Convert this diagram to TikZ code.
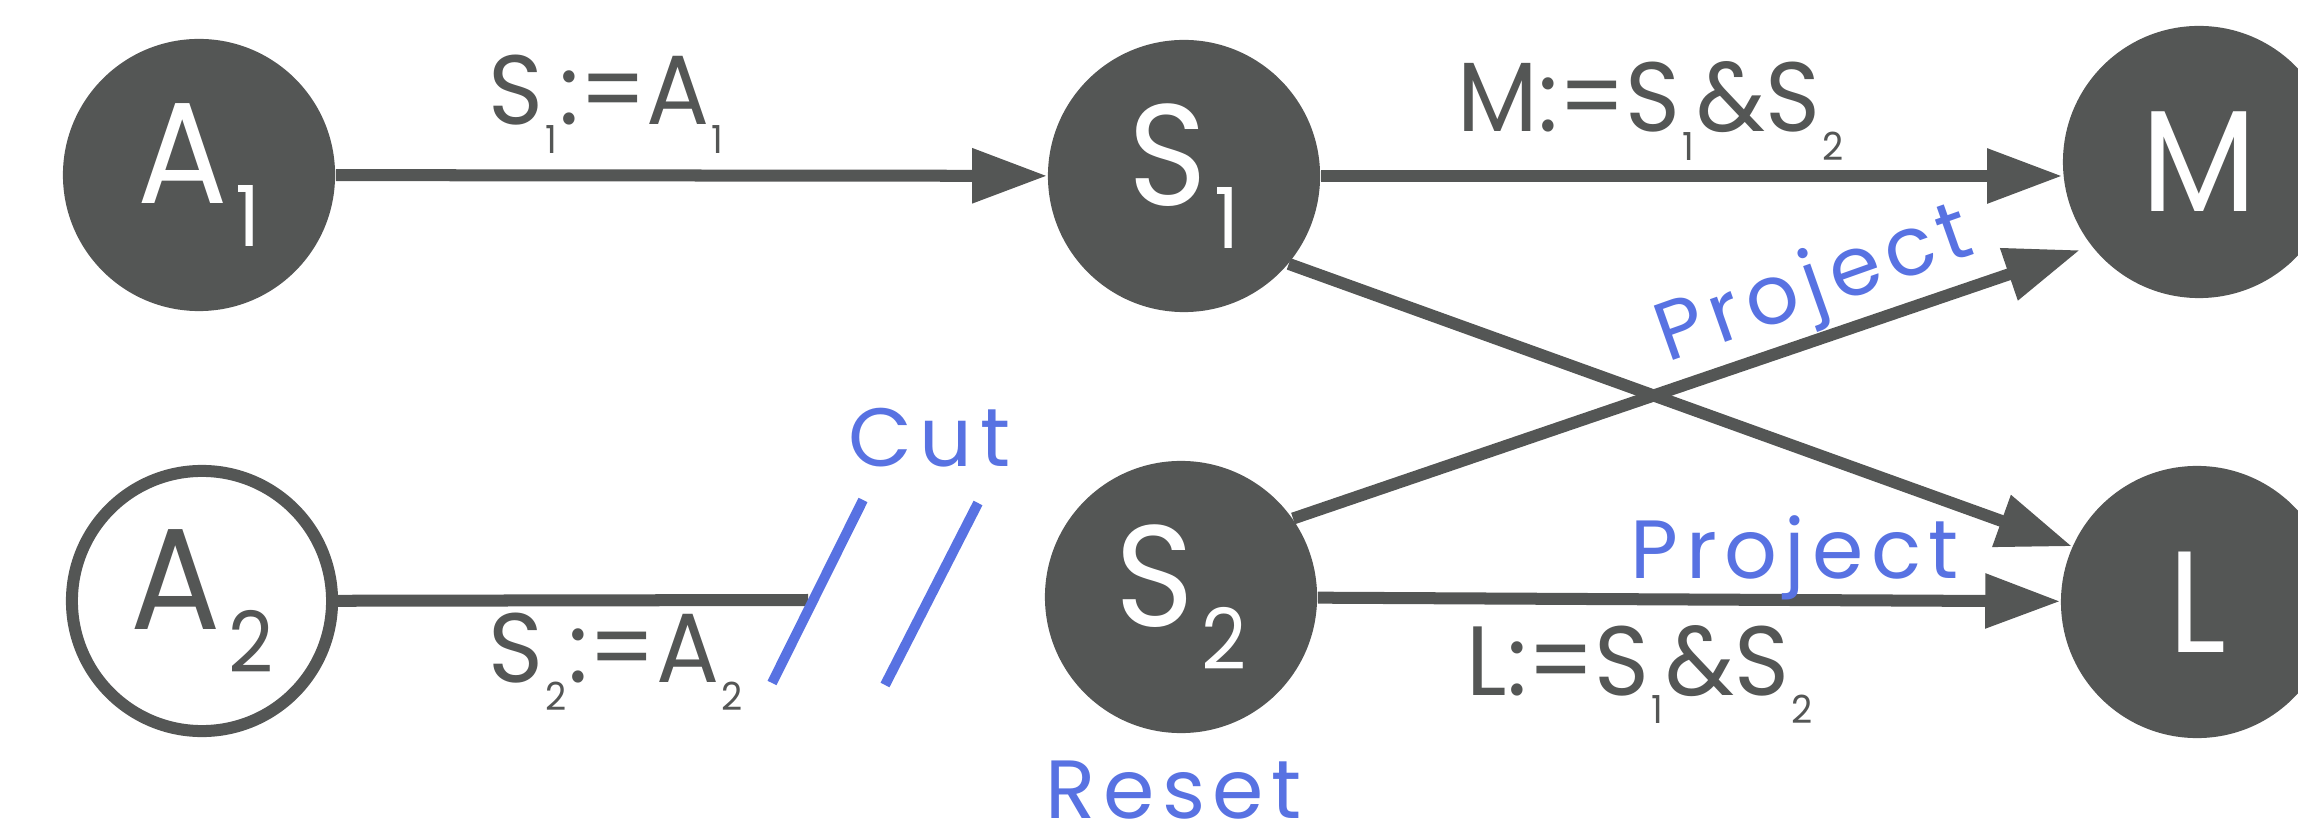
\documentclass[tikz,border=0pt]{standalone}
\usepackage{fontspec}
\setmainfont{Poppins}
\newfontfamily\letterfont[FakeStretch=0.93]{Poppins}
\newfontfamily\labelfont[FakeStretch=0.95]{Poppins}
\newfontfamily\notefont[LetterSpace=9]{Poppins}
\usetikzlibrary{arrows.meta}
\definecolor{ink}{RGB}{84,86,85}
\definecolor{accent}{RGB}{88,114,226}
% subscripts inside the state circles and in the assignment labels
\newcommand\nodesub[1]{\kern0.08cm\raisebox{-0.43cm}{\fontsize{24pt}{24pt}\selectfont #1}}
\newcommand\labsub[1]{\kern0.02cm\raisebox{-0.28cm}{\fontsize{11pt}{11pt}\selectfont #1}\kern0.02cm}
\tikzset{
  state/.style={circle, inner sep=0pt, minimum size=2.72cm, fill=ink, text=white,
    font=\letterfont\fontsize{41pt}{41pt}\selectfont},
  hollow/.style={circle, inner sep=0pt, minimum size=2.6cm, draw=ink, line width=0.12cm,
    fill=white, text=ink, font=\letterfont\fontsize{41pt}{41pt}\selectfont},
  flow/.style={draw=ink, line width=0.12cm, -{Triangle[length=0.75cm,width=0.52cm]}},
  link/.style={draw=ink, line width=0.12cm},
  cutmark/.style={draw=accent, line width=0.1cm},
  assign/.style={inner sep=0pt, anchor=base west, text=ink,
    font=\labelfont\fontsize{28pt}{28pt}\selectfont},
  note/.style={inner sep=0pt, anchor=base west, text=accent,
    font=\notefont\fontsize{23.5pt}{23.5pt}\selectfont},
}
\begin{document}
\begin{tikzpicture}[x=0.01cm, y=-0.01cm]
  \useasboundingbox (0,0) rectangle (2298,831);

  % states
  \node[state]  (A1) at (199,175)  {A\nodesub{1}};
  \node[state]  (S1) at (1184,176) {S\nodesub{1}};
  \node[state]  (M)  at (2199,162) {M};
  \node[hollow] (A2) at (202,601)  {A\nodesub{2}};
  \node[state]  (S2) at (1181,597) {S\nodesub{2}};
  \node[state]  (L)  at (2197,602) {L};

  % transitions
  \draw[flow] (A1) -- (S1);
  \draw[flow] (S1.east) -- (S1.east -| M.west);
  \draw[flow] (S1.-40) -- (L.156);
  \draw[flow, shorten >=0.12cm] (S2.35) -- (M.218);
  \draw[flow] (S2) -- (L);

  % the severed link from A2
  \coordinate (cutA) at (808,600);
  \draw[link] (A2) -- (cutA);
  \coordinate (c1a) at (863,500);
  \coordinate (c1b) at (772,683);
  \coordinate (c2a) at (978,503);
  \coordinate (c2b) at (885,685);
  \draw[cutmark] (c1a) -- (c1b);
  \draw[cutmark] (c2a) -- (c2b);

  % assignment labels
  \node[assign] (lA1) at (488,125)  {S\labsub{1}:=A\labsub{1}};
  \node[assign] (lM)  at (1457,132) {M:=S\labsub{1}\&S\labsub{2}};
  \node[assign] (lA2) at (488,682)  {S\labsub{2}:=A\labsub{2}};
  \node[assign] (lL)  at (1466,695) {L:=S\labsub{1}\&S\labsub{2}};

  % operation notes
  \node[note] (cut)   at (848,467)  {Cut};
  \node[note] (reset) at (1045,818) {Reset};
  \node[note] (projL) at (1630,578) {Project};
  \node[note, rotate=19.5] (projM) at (1667,363) {Project};
\end{tikzpicture}
\end{document}
